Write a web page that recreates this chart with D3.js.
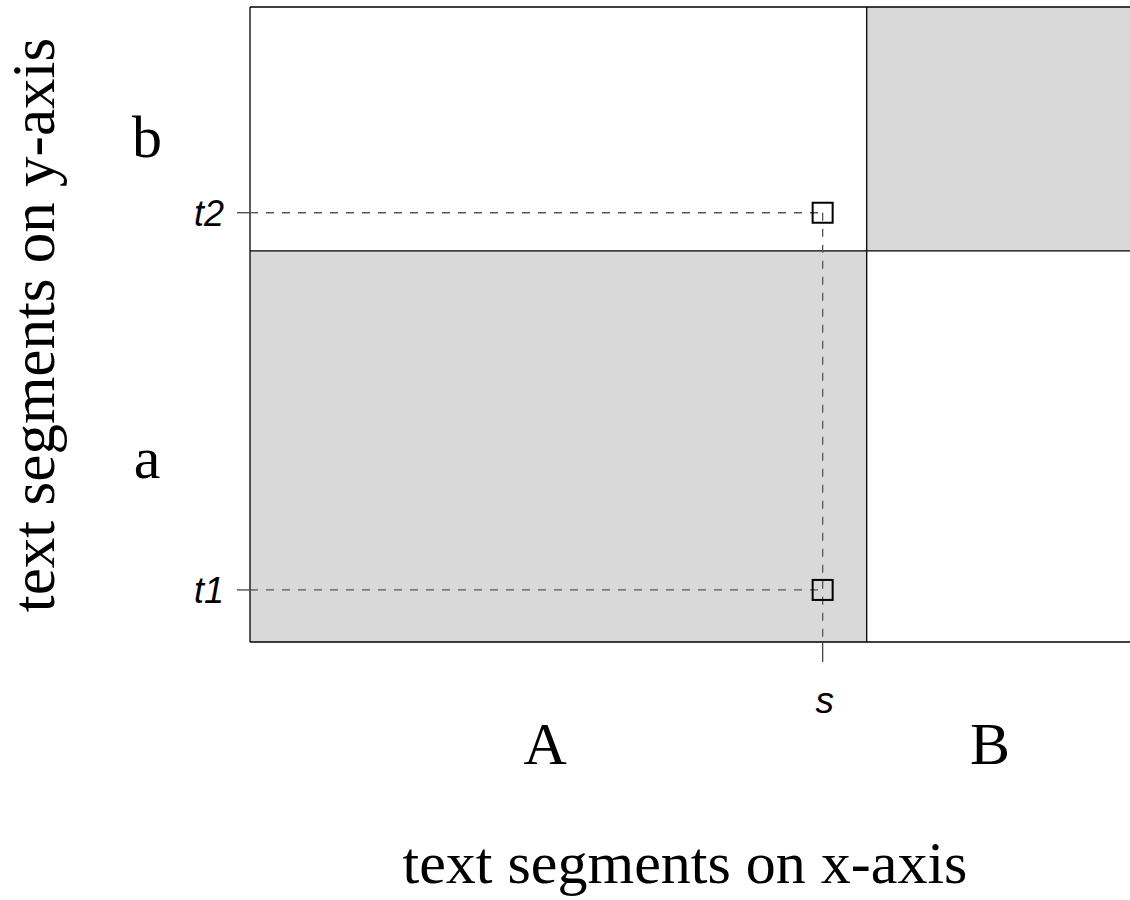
<!DOCTYPE html>
<html><head><meta charset="utf-8">
<script src="https://cdn.jsdelivr.net/npm/d3@7"></script>
<style>body{margin:0;background:#fff}svg{display:block}</style>
</head><body>
<script>
// data
const xSegments = ["A", "B"];
const xBreaks = [0, 0.7, 1.0];          // segment boundaries on x
const xLabelPos = [0.335, 0.84];         // label positions on x
const ySegments = ["a", "b"];
const yBreaks = [0, 0.616, 1.0];         // segment boundaries on y
const yLabelPos = [0.29, 0.795];         // label positions on y
const grayCells = [["A", "a"], ["B", "b"]];
const sValue = 0.65;
const tValues = [0.082, 0.676];
const tLabels = ["t1", "t2"];
const sLabel = "s";
const xTitle = "text segments on x-axis";
const yTitle = "text segments on y-axis";

const W = 1130, H = 900;
const svg = d3.select("body").append("svg").attr("width", W).attr("height", H);
const x = d3.scaleLinear().domain([0, 1]).range([250, 1131]);
const y = d3.scaleLinear().domain([0, 1]).range([642, 7]);

// gray cells
grayCells.forEach(([cx, cy]) => {
  const i = xSegments.indexOf(cx), j = ySegments.indexOf(cy);
  svg.append("rect")
    .attr("x", x(xBreaks[i])).attr("width", x(xBreaks[i + 1]) - x(xBreaks[i]))
    .attr("y", y(yBreaks[j + 1])).attr("height", y(yBreaks[j]) - y(yBreaks[j + 1]))
    .attr("fill", "#d9d9d9");
});

// grid lines: outer box + dividing lines
const line = (x1, y1, x2, y2) => svg.append("line")
  .attr("x1", x1).attr("y1", y1).attr("x2", x2).attr("y2", y2)
  .attr("stroke", "#000").attr("stroke-width", 1.3);
line(x(0), y(0), x(1) + 5, y(0));
line(x(0), y(1), x(1) + 5, y(1));
line(x(0), y(0), x(0), y(1));
xBreaks.slice(1, -1).forEach(b => line(x(b), y(0), x(b), y(1)));
yBreaks.slice(1, -1).forEach(b => line(x(0), y(b), x(1) + 5, y(b)));

// segment labels
const serif = "'Liberation Serif','Times New Roman',serif";
xSegments.forEach((s, i) => svg.append("text").text(s)
  .attr("x", x(xLabelPos[i])).attr("y", 764).attr("text-anchor", "middle")
  .attr("font-family", serif).attr("font-size", 60));
ySegments.forEach((s, i) => svg.append("text").text(s)
  .attr("x", 147).attr("y", y(yLabelPos[i])).attr("dy", "0.33em").attr("text-anchor", "middle")
  .attr("font-family", serif).attr("font-size", 60));

// titles
svg.append("text").text(xTitle).attr("x", 685).attr("y", 883)
  .attr("text-anchor", "middle").attr("font-family", serif).attr("font-size", 60);
svg.append("text").text(yTitle)
  .attr("transform", "translate(54,325) rotate(-90)")
  .attr("text-anchor", "middle").attr("font-family", serif).attr("font-size", 61);

// dashed guide lines
const dash = (x1, y1, x2, y2) => svg.append("line")
  .attr("x1", x1).attr("y1", y1).attr("x2", x2).attr("y2", y2)
  .attr("stroke", "#555").attr("stroke-width", 1.3).attr("stroke-dasharray", "8,8");
tValues.forEach(t => dash(x(0), y(t), x(sValue), y(t)));
dash(x(sValue), y(d3.max(tValues)), x(sValue), y(0));

// ticks
const sans = "'Liberation Sans',Arial,Helvetica,sans-serif";
tValues.forEach((t, i) => {
  svg.append("line").attr("x1", x(0) - 13).attr("x2", x(0)).attr("y1", y(t)).attr("y2", y(t))
    .attr("stroke", "#444").attr("stroke-width", 1.3);
  svg.append("text").text(tLabels[i]).attr("x", 224).attr("y", y(t)).attr("dy", "0.36em")
    .attr("text-anchor", "end").attr("font-family", sans).attr("font-style", "italic").attr("font-size", 36);
});
svg.append("line").attr("x1", x(sValue)).attr("x2", x(sValue)).attr("y1", y(0)).attr("y2", y(0) + 20)
  .attr("stroke", "#444").attr("stroke-width", 1.3);
svg.append("text").text(sLabel).attr("x", x(sValue) + 2).attr("y", 713)
  .attr("text-anchor", "middle").attr("font-family", sans).attr("font-style", "italic").attr("font-size", 37);

// points
tValues.forEach(t => svg.append("rect")
  .attr("x", x(sValue) - 10).attr("y", y(t) - 10).attr("width", 20).attr("height", 20)
  .attr("fill", "none").attr("stroke", "#000").attr("stroke-width", 2));
</script>
</body></html>
